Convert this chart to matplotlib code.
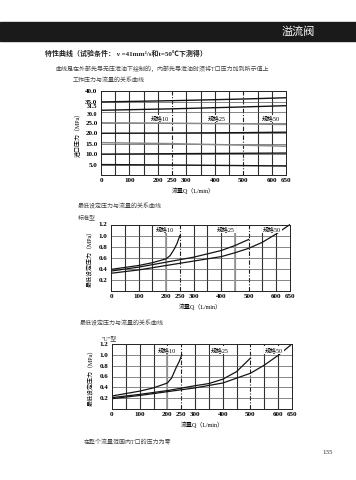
import matplotlib
matplotlib.use("Agg")
import matplotlib.pyplot as plt
from matplotlib.patches import Rectangle

plt.rcParams['font.family'] = ['Liberation Serif', 'Noto Sans CJK SC', 'DejaVu Sans']

W, H = 356, 480

# x ticks shared by all three charts
q_ticks = [0, 100, 200, 250, 300, 400, 500, 600, 650]
q_tick_labels = ["0", "100", "200", "250", "300", "400", "500", "600", "650"]
q_grid = [50, 100, 150, 200, 300, 350, 400, 450, 550, 600]
q_dash = [250, 500]

# top chart: inlet pressure vs flow
q_top = [0, 250, 500, 650]
p_top_dark = [
    [35.0, 35.6, 36.4, 37.0],
    [31.0, 31.7, 32.6, 33.2],
    [20.0, 20.1, 20.3, 20.5],
    [10.0, 10.2, 10.4, 10.5],
    [5.0, 4.8, 4.5, 4.3],
]
p_top_gray = [
    [25.0, 24.8, 24.5, 24.2],
    [15.5, 15.0, 14.3, 13.8],
]
top_yticks = [5, 10, 15, 20, 25, 30, 31.5, 35, 40]
top_ylabels = ["5.0", "10.0", "15.0", "20.0", "25.0", "30.0", "31.5", "35.0", "40.0"]

# middle chart: standard type, min set pressure
q_m10 = [0, 100, 150, 200, 215, 230, 240, 250]
p_m10 = [0.39, 0.46, 0.51, 0.58, 0.64, 0.76, 0.86, 1.0]
q_m25 = [0, 100, 200, 300, 400, 450, 500]
p_m25 = [0.36, 0.43, 0.52, 0.61, 0.73, 0.82, 0.93]
q_m50 = [0, 100, 200, 300, 400, 450, 500, 550, 600, 650]
p_m50 = [0.32, 0.38, 0.46, 0.54, 0.62, 0.69, 0.77, 0.88, 1.03, 1.2]

# bottom chart: "U" type
q_b10 = [0, 100, 150, 200, 215, 233, 243, 252]
p_b10 = [0.24, 0.33, 0.39, 0.48, 0.57, 0.78, 0.88, 1.0]
q_b25 = [0, 100, 200, 300, 350, 400, 450, 500]
p_b25 = [0.21, 0.27, 0.34, 0.43, 0.47, 0.55, 0.69, 0.94]
q_b50 = [0, 100, 200, 300, 400, 450, 500, 550, 600, 650]
p_b50 = [0.19, 0.25, 0.32, 0.39, 0.48, 0.57, 0.66, 0.81, 0.99, 1.2]

low_yticks = [0.2, 0.4, 0.6, 0.8, 1.0, 1.2]
low_ylabels = ["0.2", "0.4", "0.6", "0.8", "1.0", "1.2"]


def box(l, t, r, b):
    return [l / W, 1 - b / H, (r - l) / W, (b - t) / H]


def ftext(x, y, s, **kw):
    fig.text(x / W, 1 - y / H, s, **kw)


def setup(ax, ymax, yticks, ylabels, ylabel):
    ax.set_xlim(0, 650)
    ax.set_ylim(0, ymax)
    ax.vlines(q_grid, 0, ymax, colors="#303030", linewidths=0.8, zorder=1)
    ax.vlines(q_dash, 0, ymax, colors="#202020", linewidths=0.8,
              linestyles=[(0, (4, 1.5, 1, 1.5))], zorder=1)
    ax.set_xticks(q_ticks)
    ax.set_xticklabels(q_tick_labels)
    ax.set_yticks(yticks)
    ax.set_yticklabels(ylabels)
    ax.tick_params(length=0, labelsize=5, pad=2.5)
    for lab in ax.get_xticklabels() + ax.get_yticklabels():
        lab.set_fontweight("bold")
    ax.set_ylabel(ylabel, fontsize=4.3, labelpad=4)
    ax.set_xlabel("流量Q（L/min）", fontsize=4.3, labelpad=3)
    for sp in ax.spines.values():
        sp.set_linewidth(0.7)
        sp.set_color("#222222")


fig = plt.figure(figsize=(W / 100, H / 100), dpi=100)

# header band
fig.patches.append(Rectangle((0, 1 - 41 / H), 1, 19 / H, transform=fig.transFigure,
                             color="#1a1a1a", zorder=0))
ftext(298, 31.5, "溢流阀", color="white", fontsize=8, ha="center", va="center")
ftext(45, 53, "特性曲线（试验条件： ν =41mm²/s和t=50℃下测得）", fontsize=5.0,
      fontweight="bold", va="center", color="#222222")
ftext(55, 69, "曲线是在外部先导无压泄油下绘制的，内部先导泄油时须将T口压力加到所示值上",
      fontsize=4.3, va="center", color="#444444")
ftext(73, 80, "工作压力与流量的关系曲线", fontsize=4.3, va="center", color="#444444")

# top chart
ax1 = fig.add_axes(box(101, 91.5, 286, 175))
setup(ax1, 40, top_yticks, top_ylabels, "进口压力（MPa）")
labs = ax1.get_yticklabels()
labs[5].set_va("top")
labs[5].set_fontsize(4.3)
labs[6].set_va("bottom")
labs[6].set_fontsize(4.3)
ax1.hlines([5, 10, 15, 20, 25, 30, 35], 0, 650, colors="#555555", linewidths=0.5)
for p in p_top_gray:
    ax1.plot(q_top, p, color="#8a8a8a", lw=1.1)
for p in p_top_dark:
    ax1.plot(q_top, p, color="#151515", lw=1.0)
for q, s in [(207, "规格10"), (405, "规格25"), (597, "规格50")]:
    ax1.text(q, 27.2, s, fontsize=4.3, ha="center", va="center",
             bbox=dict(fc="white", ec="none", pad=0.6))

# middle chart
ftext(78, 206, "最低设定压力与流量的关系曲线", fontsize=4.3, va="center", color="#444444")
ftext(78, 217, "标准型", fontsize=4.3, va="center", color="#444444")
ax2 = fig.add_axes(box(111, 224.5, 290, 291))
setup(ax2, 1.2, low_yticks, low_ylabels, "最低设定压力（MPa）")
ax2.hlines(low_yticks[:-1], 0, 650, colors="#555555", linewidths=0.5)
ax2.plot([200, 200], [0, 1.07], color="#9a9a9a", lw=1.3)
ax2.plot([450, 450], [0, 1.12], color="#9a9a9a", lw=1.3)
ax2.plot(q_m10, p_m10, color="#151515", lw=0.9)
ax2.plot(q_m25, p_m25, color="#151515", lw=0.9)
ax2.plot(q_m50, p_m50, color="#151515", lw=0.9)
for q, s in [(196, "规格10"), (417, "规格25"), (585, "规格50")]:
    ax2.text(q, 1.11, s, fontsize=4.3, ha="center", va="center",
             bbox=dict(fc="white", ec="none", pad=0.6))

# bottom chart
ftext(80, 323, "最低设定压力与流量的关系曲线", fontsize=4.3, va="center", color="#444444")
ftext(102, 338, "\"U\"型", fontsize=4.3, va="center", color="#333333")
ax3 = fig.add_axes(box(112, 344, 292, 409))
setup(ax3, 1.2, low_yticks, low_ylabels, "最低设定压力（MPa）")
ax3.hlines(low_yticks[:-1], 0, 650, colors="#555555", linewidths=0.5)
ax3.plot([200, 200], [0, 1.06], color="#9a9a9a", lw=1.3)
ax3.plot(q_b10, p_b10, color="#151515", lw=0.9)
ax3.plot(q_b25, p_b25, color="#151515", lw=0.9)
ax3.plot(q_b50, p_b50, color="#151515", lw=0.9)
for q, s in [(198, "规格10"), (390, "规格25"), (586, "规格50")]:
    ax3.text(q, 1.09, s, fontsize=4.3, ha="center", va="center",
             bbox=dict(fc="white", ec="none", pad=0.6))

ftext(84, 443, "在整个流量范围内T口的压力为零", fontsize=4.3, va="center", color="#444444")
ftext(328, 453, "135", fontsize=5, va="center", ha="center", color="#333333")

fig.savefig("out.png", dpi=100)
